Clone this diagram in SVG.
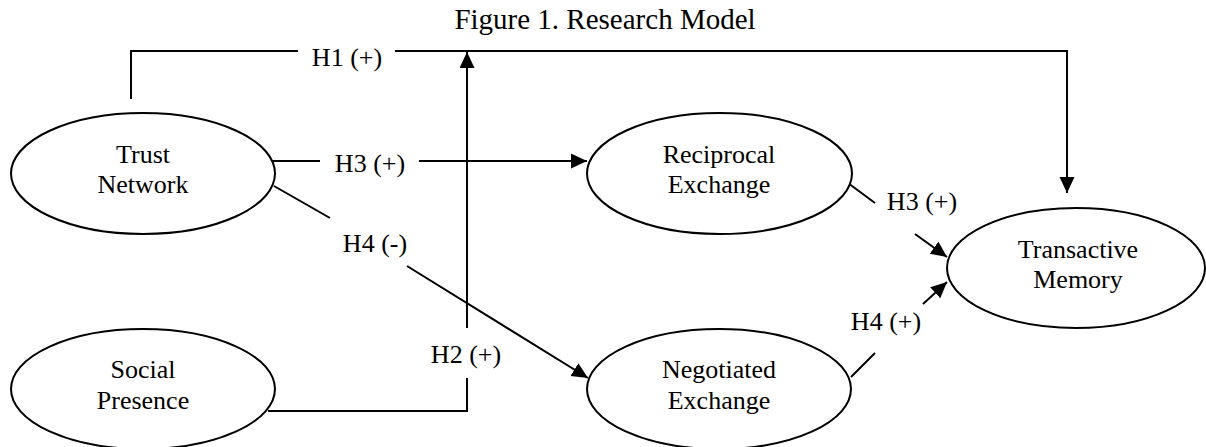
<svg xmlns="http://www.w3.org/2000/svg" width="1206" height="447" viewBox="0 0 1206 447">
<style>
.node ellipse{fill:#fff;stroke:#000;stroke-width:2}
.lbl{font-family:"Liberation Serif","Times New Roman",serif;font-size:26px;fill:#000;text-anchor:middle}
.edge{fill:none;stroke:#000;stroke-width:2}
.arr{marker-end:url(#ah)}
.title{font-family:"Liberation Serif","Times New Roman",serif;font-size:29px;fill:#000;text-anchor:middle}
</style>
<defs>
<marker id="ah" markerUnits="userSpaceOnUse" markerWidth="17" markerHeight="16" refX="16" refY="7.5" orient="auto">
<path d="M0,0 L16,7.5 L0,15 z" fill="#000"/>
</marker>
</defs>
<rect width="1206" height="447" fill="#fff"/>
<text class="title" x="605" y="29">Figure 1. Research Model</text>
<g id="connectors">
<polyline class="edge" points="131,99 131,51 298,51"/>
<polyline class="edge arr" points="395,51 1067,51 1067,193"/>
<text class="lbl" x="347" y="66">H1 (+)</text>
<polyline class="edge" points="268,411 467,411 467,378"/>
<polyline class="edge arr" points="467,328 467,52"/>
<text class="lbl" x="466" y="363">H2 (+)</text>
<line class="edge" x1="273" y1="161" x2="320" y2="161"/>
<line class="edge arr" x1="419" y1="161" x2="587" y2="161"/>
<text class="lbl" x="370" y="172">H3 (+)</text>
<line class="edge" x1="274" y1="186" x2="330" y2="218"/>
<line class="edge arr" x1="407" y1="266" x2="588" y2="378"/>
<text class="lbl" x="375" y="252">H4 (-)</text>
<line class="edge" x1="848" y1="183" x2="875" y2="203"/>
<line class="edge arr" x1="915" y1="234" x2="947" y2="257"/>
<text class="lbl" x="922" y="210">H3 (+)</text>
<line class="edge" x1="851" y1="377" x2="875" y2="353"/>
<line class="edge arr" x1="923" y1="304" x2="947" y2="282"/>
<text class="lbl" x="886" y="330">H4 (+)</text>
</g>
<g id="trust-network" class="node">
<ellipse cx="143" cy="173.5" rx="132" ry="60.5"/>
<text class="lbl" x="143" y="163">Trust</text>
<text class="lbl" x="143" y="193">Network</text>
</g>
<g id="social-presence" class="node">
<ellipse cx="143" cy="389" rx="132" ry="60"/>
<text class="lbl" x="143" y="378">Social</text>
<text class="lbl" x="143" y="409">Presence</text>
</g>
<g id="reciprocal-exchange" class="node">
<ellipse cx="719.5" cy="173.5" rx="132.5" ry="60.5"/>
<text class="lbl" x="719" y="163">Reciprocal</text>
<text class="lbl" x="719" y="193">Exchange</text>
</g>
<g id="negotiated-exchange" class="node">
<ellipse cx="719" cy="389" rx="132" ry="60"/>
<text class="lbl" x="719" y="378">Negotiated</text>
<text class="lbl" x="719" y="409">Exchange</text>
</g>
<g id="transactive-memory" class="node">
<ellipse cx="1076" cy="268" rx="129" ry="60"/>
<text class="lbl" x="1078" y="258">Transactive</text>
<text class="lbl" x="1078" y="288">Memory</text>
</g>
</svg>
